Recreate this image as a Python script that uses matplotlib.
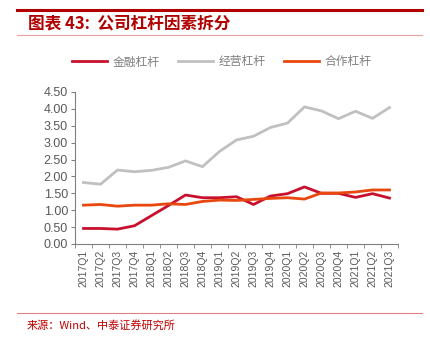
#!/usr/bin/env python3
"""Company leverage decomposition, 2017Q1-2021Q3."""

import matplotlib
matplotlib.use("Agg")
import matplotlib.pyplot as plt
import numpy as np
from matplotlib.lines import Line2D

plt.rcParams["font.family"] = ["Liberation Sans", "Noto Sans CJK SC", "DejaVu Sans"]

QUARTERS = [
    "2017Q1", "2017Q2", "2017Q3", "2017Q4",
    "2018Q1", "2018Q2", "2018Q3", "2018Q4",
    "2019Q1", "2019Q2", "2019Q3", "2019Q4",
    "2020Q1", "2020Q2", "2020Q3", "2020Q4",
    "2021Q1", "2021Q2", "2021Q3",
]
FINANCIAL = [0.46, 0.46, 0.44, 0.54, 0.84, 1.14, 1.45, 1.37, 1.37, 1.40, 1.17, 1.42,
             1.49, 1.69, 1.50, 1.50, 1.38, 1.49, 1.36]
OPERATING = [1.82, 1.77, 2.19, 2.14, 2.18, 2.27, 2.46, 2.29, 2.74, 3.08, 3.19, 3.45,
             3.58, 4.06, 3.94, 3.71, 3.93, 3.72, 4.04]
COOPERATION = [1.15, 1.17, 1.12, 1.15, 1.15, 1.19, 1.17, 1.26, 1.30, 1.29, 1.32, 1.35,
               1.37, 1.33, 1.51, 1.51, 1.54, 1.60, 1.60]
SERIES_NAMES = ["金融杠杆", "经营杠杆", "合作杠杆"]
YTICKS = [0.0, 0.5, 1.0, 1.5, 2.0, 2.5, 3.0, 3.5, 4.0, 4.5]

COLORS = ["#C8102E", "#C0C0C0", "#E8470E"]
CJK = ["Noto Sans CJK SC", "DejaVu Sans"]

fig = plt.figure(figsize=(4.3, 3.4), dpi=100)

# header / footer rules
fig.add_artist(Line2D([17 / 430, 422 / 430], [1 - 10 / 340] * 2, color="#B00000", lw=2.2))
fig.add_artist(Line2D([17 / 430, 422 / 430], [1 - 35 / 340] * 2, color="#E8A0A0", lw=0.8))
fig.add_artist(Line2D([17 / 430, 422 / 430], [1 - 313 / 340] * 2, color="#E08080", lw=0.8))
fig.text(28 / 430, 1 - 23 / 340, "图表 43:  公司杠杆因素拆分", color="#B00000",
         fontsize=12, fontweight="bold", style="italic", family=CJK, va="center")
fig.text(27 / 430, 1 - 325 / 340, "来源：Wind、中泰证券研究所", color="#C00000",
         fontsize=8, family=CJK, va="center")

ax = fig.add_axes([75 / 430, 1 - 244 / 340, 323 / 430, 152 / 340])
x = np.arange(len(QUARTERS))
for vals, name, col in zip([FINANCIAL, OPERATING, COOPERATION], SERIES_NAMES, COLORS):
    ax.plot(x, vals, color=col, lw=2.0, label=name)

ax.set_xlim(-0.5, len(QUARTERS) - 0.5)
ax.set_ylim(0, 4.5)
ax.set_yticks(YTICKS)
ax.set_yticklabels([f"{v:.2f}" for v in YTICKS], fontsize=9, color="#595959")
ax.set_xticks(x)
ax.set_xticklabels(QUARTERS, rotation=90, fontsize=7.5, color="#595959")
ax.set_xticks(np.arange(-0.5, len(QUARTERS)), minor=True)
ax.tick_params(axis="x", which="major", length=0, pad=4)
ax.tick_params(axis="x", which="minor", length=3, color="#808080", direction="out")
ax.tick_params(axis="y", length=3, color="#808080", pad=2)
for side in ["top", "right"]:
    ax.spines[side].set_visible(False)
for side in ["left", "bottom"]:
    ax.spines[side].set_color("#808080")
    ax.spines[side].set_linewidth(0.8)

leg = fig.legend(loc="center", bbox_to_anchor=(222 / 430, 1 - 62 / 340), ncol=3,
                 frameon=False, handlelength=2.9, columnspacing=1.6, handletextpad=0.5,
                 prop={"family": CJK, "size": 8.5})
for t in leg.get_texts():
    t.set_color("#7F7F7F")

fig.savefig("out.png", dpi=100)
